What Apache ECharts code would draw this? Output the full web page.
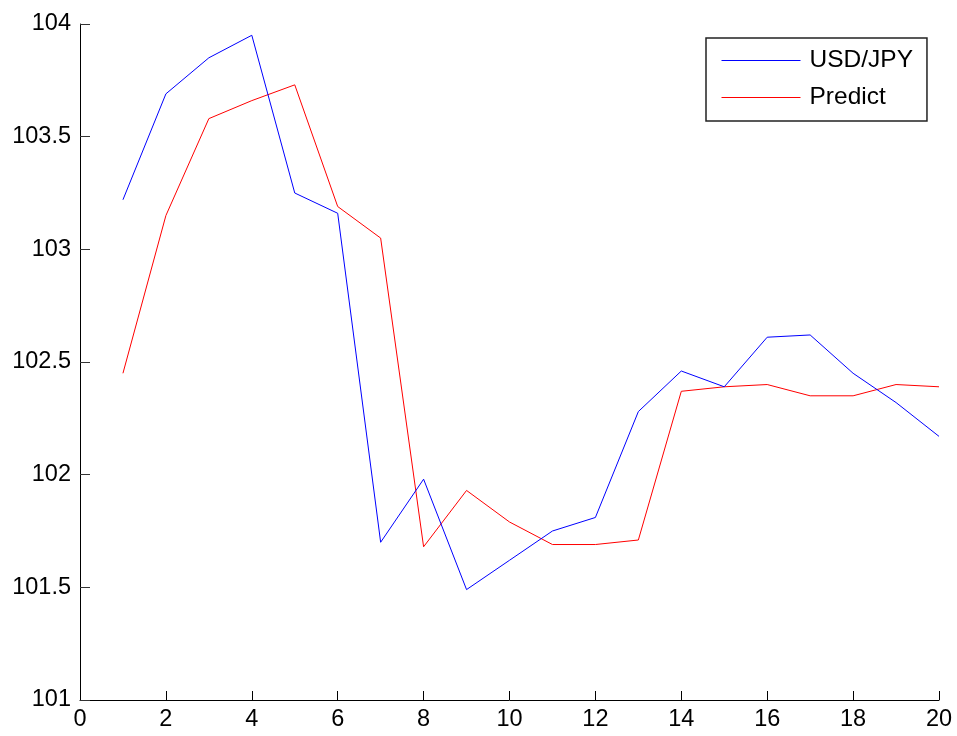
<!DOCTYPE html>
<html>
<head>
<meta charset="utf-8">
<script src="https://cdn.jsdelivr.net/npm/echarts@6/dist/echarts.min.js"></script>
<style>
  html, body { margin: 0; padding: 0; background: #fff; }
  #chart { width: 957px; height: 736px; }
</style>
</head>
<body>
<div id="chart"></div>
<script>
// Sample index (x axis)
const steps = [1, 2, 3, 4, 5, 6, 7, 8, 9, 10, 11, 12, 13, 14, 15, 16, 17, 18, 19, 20];
// Observed exchange rate
const usdJpy = [103.22, 103.69, 103.85, 103.95, 103.25, 103.16, 101.70, 101.98, 101.49, 101.62,
                101.75, 101.81, 102.28, 102.46, 102.39, 102.61, 102.62, 102.45, 102.32, 102.17];
// Model prediction
const predict = [102.45, 103.15, 103.58, 103.66, 103.73, 103.19, 103.05, 101.68, 101.93, 101.79,
                 101.69, 101.69, 101.71, 102.37, 102.39, 102.40, 102.35, 102.35, 102.40, 102.39];

const pairs = (ys) => steps.map((x, i) => [x, ys[i]]);

const FONT = '"Liberation Sans", Arial, Helvetica, sans-serif';

const chart = echarts.init(document.getElementById('chart'), null, { renderer: 'canvas' });
chart.setOption({
  animation: false,
  backgroundColor: '#ffffff',
  grid: { left: 80, right: 18, top: 24, bottom: 36, containLabel: false },
  legend: {
    orient: 'vertical',
    left: 706,
    top: 38,
    padding: [10, 14, 11, 15],
    itemWidth: 79,
    itemHeight: 25,
    itemGap: 12,
    backgroundColor: '#ffffff',
    borderColor: '#222222',
    borderWidth: 1.5,
    borderRadius: 0,
    // plain line keys: hide the marker drawn in the middle of the key
    itemStyle: { opacity: 0 },
    lineStyle: { width: 1, opacity: 1 },
    textStyle: { fontFamily: FONT, fontSize: 24.5, color: '#000', padding: [0, 0, 0, 4] },
    data: ['USD/JPY', 'Predict']
  },
  xAxis: {
    type: 'value',
    min: 0, max: 20, interval: 2,
    axisLine: { onZero: false, lineStyle: { color: '#000', width: 1 } },
    axisTick: { inside: true, length: 9, lineStyle: { color: '#000', width: 1 } },
    axisLabel: { fontFamily: FONT, fontSize: 23.5, color: '#000', margin: 8 },
    splitLine: { show: false }
  },
  yAxis: {
    type: 'value',
    min: 101, max: 104, interval: 0.5,
    axisLine: { show: true, lineStyle: { color: '#000', width: 1 } },
    axisTick: { show: true, inside: true, length: 10, lineStyle: { color: '#333', width: 1 } },
    axisLabel: { fontFamily: FONT, fontSize: 23.5, color: '#000', margin: 9 },
    splitLine: { show: false }
  },
  series: [
    {
      name: 'USD/JPY',
      type: 'line',
      symbol: 'none',
      data: pairs(usdJpy),
      lineStyle: { color: '#0000ff', width: 1 },
      itemStyle: { color: '#0000ff' },
      z: 3
    },
    {
      name: 'Predict',
      type: 'line',
      symbol: 'none',
      data: pairs(predict),
      lineStyle: { color: '#ff0000', width: 1 },
      itemStyle: { color: '#ff0000' },
      z: 2
    }
  ]
});
</script>
</body>
</html>
